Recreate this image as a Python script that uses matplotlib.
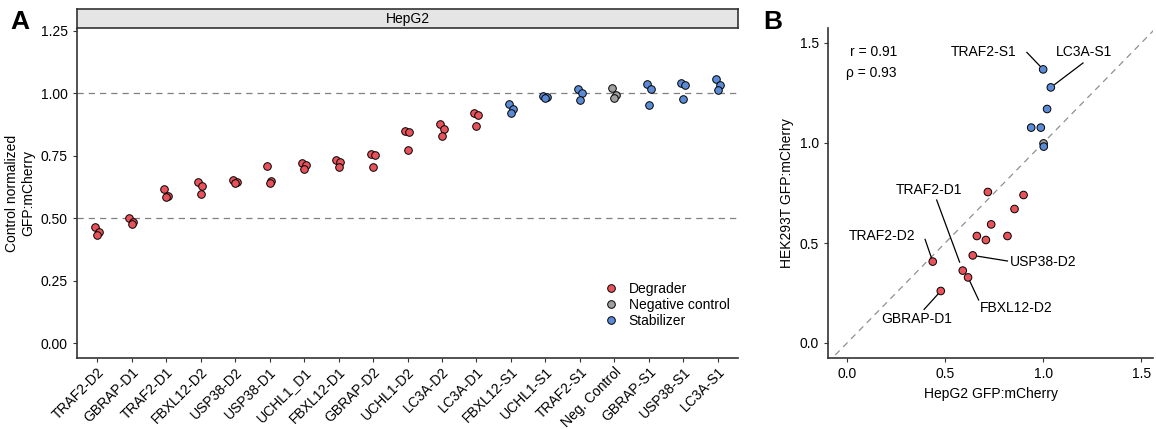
import matplotlib
matplotlib.use("Agg")
import matplotlib.pyplot as plt
from matplotlib.lines import Line2D

plt.rcParams['font.family'] = ['Liberation Sans', 'DejaVu Sans']

# ---- panel A data (HepG2 replicates) ----
constructs = ["TRAF2-D2", "GBRAP-D1", "TRAF2-D1", "FBXL12-D2", "USP38-D2", "USP38-D1",
              "UCHL1_D1", "FBXL12-D1", "GBRAP-D2", "UCHL1-D2", "LC3A-D2", "LC3A-D1",
              "FBXL12-S1", "UCHL1-S1", "TRAF2-S1", "Neg. Control", "GBRAP-S1", "USP38-S1",
              "LC3A-S1"]
construct_type = ["Degrader"] * 12 + ["Stabilizer"] * 3 + ["Negative control"] + ["Stabilizer"] * 3
replicates = [
    [0.463, 0.443, 0.434],
    [0.500, 0.486, 0.475],
    [0.617, 0.590, 0.585],
    [0.646, 0.629, 0.596],
    [0.652, 0.645, 0.642],
    [0.708, 0.649, 0.640],
    [0.721, 0.713, 0.696],
    [0.732, 0.724, 0.706],
    [0.756, 0.755, 0.706],
    [0.851, 0.844, 0.775],
    [0.879, 0.856, 0.828],
    [0.920, 0.913, 0.869],
    [0.958, 0.939, 0.920],
    [0.990, 0.986, 0.982],
    [1.019, 1.000, 0.975],
    [1.023, 0.994, 0.983],
    [1.038, 1.016, 0.954],
    [1.040, 1.035, 0.979],
    [1.059, 1.035, 1.015],
]

# ---- panel B data (HepG2 vs HEK293T means, same order as constructs) ----
hepg2 = [0.437, 0.478, 0.590, 0.617, 0.641, 0.662, 0.708, 0.718, 0.735, 0.818, 0.854, 0.900,
         0.939, 0.988, 1.000, 1.002, 1.003, 1.020, 1.039]
hek293t = [0.407, 0.260, 0.362, 0.328, 0.438, 0.535, 0.515, 0.755, 0.593, 0.535, 0.670, 0.740,
           1.077, 1.077, 1.368, 0.998, 0.982, 1.170, 1.278]

colors = {"Degrader": "#E8525B", "Negative control": "#A0A0A0", "Stabilizer": "#5B8AD6"}
jitter = [-0.06, 0.05, 0.0]

fig = plt.figure(figsize=(11.56, 4.29), dpi=100)
W, H = 1156, 429

# ---------- panel A ----------
axA = fig.add_axes([77 / W, 1 - 358 / H, (738 - 77) / W, (358 - 28) / H])
for i, (vals, t) in enumerate(zip(replicates, construct_type)):
    xs = [i + jitter[k % 3] for k in range(len(vals))]
    axA.scatter(xs, vals, s=30, color=colors[t], edgecolor="black", linewidth=0.7, zorder=3)
axA.axhline(1.0, color="#808080", linestyle=(0, (5, 4)), linewidth=0.9, zorder=1)
axA.axhline(0.5, color="#808080", linestyle=(0, (5, 4)), linewidth=0.9, zorder=1)
axA.set_xlim(-0.58, len(constructs) - 1 + 0.58)
axA.set_ylim(-0.06, 1.262)
axA.set_yticks([0, 0.25, 0.5, 0.75, 1.0, 1.25])
axA.set_yticklabels(["0.00", "0.25", "0.50", "0.75", "1.00", "1.25"])
axA.set_xticks(range(len(constructs)))
axA.set_xticklabels(constructs, rotation=45, ha="right", rotation_mode="anchor")
axA.set_ylabel("Control normalized\nGFP:mCherry", fontsize=10, labelpad=4)
for s in ["top", "right"]:
    axA.spines[s].set_visible(False)
for s in ["left", "bottom"]:
    axA.spines[s].set_linewidth(1.2)
    axA.spines[s].set_color("#333333")
axA.tick_params(labelsize=10, length=3, color="#333333", labelcolor="black")
axA.tick_params(axis="x", pad=2)

handles = [Line2D([], [], marker="o", linestyle="", markerfacecolor=colors[k],
                  markeredgecolor="black", markeredgewidth=0.7, markersize=5.5, label=k)
           for k in ["Degrader", "Negative control", "Stabilizer"]]
axA.legend(handles=handles, loc="lower right", bbox_to_anchor=(1.0, 0.065), frameon=False,
           fontsize=10, handletextpad=0.3, labelspacing=0.15, borderaxespad=0.2)

strip = fig.add_axes([77 / W, 1 - 28 / H, (738 - 77) / W, 19 / H])
strip.set_facecolor("#E5E5E5")
strip.set_xticks([])
strip.set_yticks([])
for s in strip.spines.values():
    s.set_linewidth(1.2)
    s.set_color("#333333")
strip.text(0.5, 0.45, "HepG2", ha="center", va="center", fontsize=10)

fig.text(10 / W, 1 - 22 / H, "A", fontsize=19, fontweight="bold", va="center")

# ---------- panel B ----------
axB = fig.add_axes([828 / W, 1 - 358 / H, (1153 - 828) / W, (358 - 28) / H])
bcols = [colors[t] for t in construct_type]
axB.plot([-0.1, 1.6], [-0.1, 1.6], color="#909090", linestyle=(0, (5, 4)), linewidth=0.9, zorder=1)
axB.scatter(hepg2, hek293t, s=30, c=bcols, edgecolor="black", linewidth=0.7, zorder=3)
axB.set_xlim(-0.097, 1.56)
axB.set_ylim(-0.075, 1.575)
axB.set_xticks([0, 0.5, 1.0, 1.5])
axB.set_yticks([0, 0.5, 1.0, 1.5])
axB.set_xlabel("HepG2 GFP:mCherry", fontsize=10)
axB.set_ylabel("HEK293T GFP:mCherry", fontsize=10, labelpad=4)
for s in ["top", "right"]:
    axB.spines[s].set_visible(False)
for s in ["left", "bottom"]:
    axB.spines[s].set_linewidth(1.2)
    axB.spines[s].set_color("#333333")
axB.tick_params(labelsize=10, length=3, color="#333333")

axB.text(0.254, 1.457, "r = 0.91", ha="right", va="center", fontsize=10)
axB.text(0.254, 1.352, "ρ = 0.93", ha="right", va="center", fontsize=10)

# text position, start of leader line, alignment
labels_b = {
    "TRAF2-S1": ((0.694, 1.457), (0.917, 1.453), "center"),
    "LC3A-S1": ((1.207, 1.457), (1.203, 1.40), "center"),
    "TRAF2-D1": ((0.42, 0.765), (0.457, 0.715), "center"),
    "TRAF2-D2": ((0.177, 0.537), (0.398, 0.518), "center"),
    "USP38-D2": ((0.832, 0.407), (0.818, 0.41), "left"),
    "FBXL12-D2": ((0.861, 0.173), (0.671, 0.215), "center"),
    "GBRAP-D1": ((0.356, 0.12), (0.393, 0.168), "center"),
}
for name, (txy, lxy, ha) in labels_b.items():
    j = constructs.index(name)
    px, py = hepg2[j], hek293t[j]
    axB.text(txy[0], txy[1], name, ha=ha, va="center", fontsize=10)
    # leader line stops just short of the point
    dx, dy = px - lxy[0], py - lxy[1]
    axB.plot([lxy[0], lxy[0] + dx * 0.88], [lxy[1], lxy[1] + dy * 0.88],
             color="black", linewidth=0.9, zorder=2)

fig.text(763 / W, 1 - 22 / H, "B", fontsize=19, fontweight="bold", va="center")

fig.savefig("out.png", dpi=100)
